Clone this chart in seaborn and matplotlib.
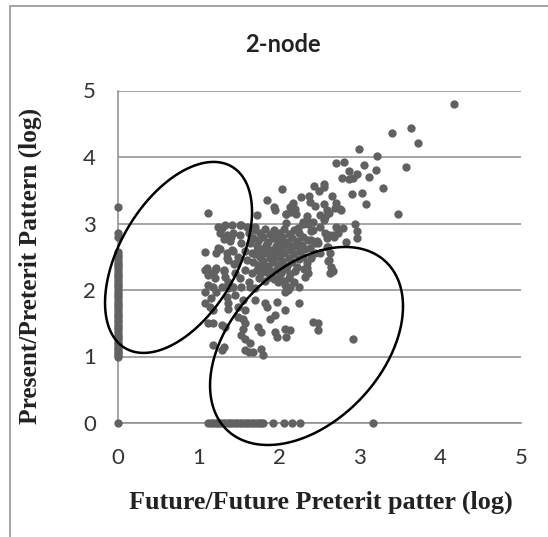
import numpy as np
import matplotlib
matplotlib.use("Agg")
import matplotlib.pyplot as plt
from matplotlib.patches import Rectangle
import seaborn as sns
import pandas as pd

# points on the x = 0 axis (y values)
zero_col_y = [0, 0.99, 1.02, 1.05, 1.08, 1.12, 1.15, 1.19, 1.22, 1.26, 1.30, 1.33, 1.37,
              1.41, 1.44, 1.48, 1.52, 1.55, 1.59, 1.63, 1.66, 1.70, 1.74, 1.78, 1.81,
              1.85, 1.89, 1.92, 1.96, 2.00, 2.04, 2.07, 2.11, 2.15, 2.19, 2.22, 2.26,
              2.30, 2.34, 2.37, 2.41, 2.45, 2.49, 2.53, 2.57, 2.80, 2.85, 3.25]

# points on the y = 0 axis (x values)
zero_row_x = [1.12, 1.15, 1.18, 1.21, 1.24, 1.27, 1.30, 1.33, 1.36, 1.39, 1.42, 1.45,
              1.48, 1.51, 1.54, 1.57, 1.60, 1.63, 1.66, 1.69, 1.72, 1.75, 1.78, 1.80,
              1.92, 2.06, 2.16, 2.26, 3.16]

# main cloud
cloud = [
    (4.17, 4.79), (3.64, 4.44), (3.72, 4.21), (3.40, 4.36), (2.99, 4.12), (3.21, 4.02),
    (3.57, 3.85), (3.20, 3.81), (3.05, 3.88), (2.70, 3.91), (2.81, 3.92), (2.86, 3.79),
    (2.97, 3.75), (3.11, 3.70), (2.78, 3.69), (2.86, 3.67), (2.91, 3.68), (3.29, 3.54),
    (3.03, 3.46), (2.90, 3.44), (3.08, 3.30), (3.47, 3.15), (2.56, 3.59), (2.55, 3.55),
    (2.43, 3.57), (2.49, 3.49), (2.04, 3.52), (2.27, 3.40), (2.37, 3.41), (2.66, 3.41),
    (1.85, 3.36), (1.93, 3.25), (2.17, 3.31), (2.13, 3.25), (2.20, 3.22), (2.38, 3.33),
    (2.44, 3.27), (2.55, 3.29), (2.59, 3.21), (2.71, 3.31), (2.75, 3.22), (2.69, 3.23),
    (2.08, 3.14), (2.21, 3.15), (2.34, 3.11), (2.51, 3.13), (2.57, 3.10), (2.56, 3.05),
    (2.62, 3.16), (1.73, 3.13), (2.77, 3.21), (2.09, 3.01), (2.29, 3.02), (2.35, 3.04),
    (1.12, 3.16), (2.70, 2.95), (2.79, 2.93), (2.94, 2.99), (2.97, 2.89), (2.96, 2.78),
    (2.83, 2.72), (2.42, 2.90), (2.39, 2.88), (2.36, 2.75), (2.47, 2.74), (2.62, 2.82),
    (2.68, 2.79), (2.60, 2.65), (2.62, 2.45), (2.64, 2.35), (2.67, 2.28), (2.31, 2.31),
    (2.34, 2.40), (2.40, 2.48), (2.23, 2.93), (2.29, 2.99), (1.95, 3.21), (2.15, 3.18),
    (2.09, 3.15),
    (1.24, 2.95), (1.29, 2.93), (1.42, 2.97), (1.53, 2.97), (1.60, 2.94), (1.70, 2.95),
    (1.08, 2.57), (1.26, 2.62), (1.31, 2.76), (1.40, 2.80), (1.39, 2.73), (1.35, 2.48),
    (1.43, 2.59), (1.47, 2.40), (1.44, 2.39), (1.11, 2.33), (1.22, 2.33), (1.31, 2.29),
    (1.18, 2.25),
    (1.33, 2.98), (1.51, 2.97), (1.27, 2.85), (1.35, 2.83), (1.43, 2.85), (1.51, 2.83),
    (1.62, 2.85), (1.24, 2.63), (1.22, 2.55), (1.35, 2.55), (1.41, 2.60), (1.37, 2.45),
    (1.49, 2.50), (1.58, 2.58), (1.60, 2.45), (1.66, 2.55), (1.53, 2.70), (1.64, 2.70),
    (1.08, 2.30), (1.12, 2.23), (1.20, 2.30), (1.20, 2.18), (1.31, 2.30), (1.33, 2.20),
    (1.37, 2.12), (1.45, 2.25), (1.51, 2.18), (1.58, 2.30), (1.62, 2.12), (1.66, 2.25),
    (1.29, 2.05), (1.12, 2.08), (1.41, 2.05), (1.53, 2.05),
    (2.36, 3.00), (2.42, 3.03), (2.51, 2.95), (2.57, 2.85), (2.59, 2.78), (2.67, 2.83),
    (2.73, 2.85), (2.40, 2.75), (2.44, 2.70), (2.48, 2.70), (2.38, 2.63), (2.44, 2.55),
    (2.51, 2.55), (2.59, 2.65), (2.63, 2.55), (2.61, 2.43), (2.65, 2.30), (2.63, 2.25),
    (2.34, 2.33), (2.36, 2.25), (2.32, 2.20), (2.07, 2.08), (2.11, 2.00), (1.99, 2.12),
    (1.86, 2.25), (1.91, 2.20),
    (1.08, 1.97), (1.18, 2.05), (1.22, 1.97), (1.37, 2.03), (1.43, 2.05), (1.64, 2.05),
    (1.70, 2.03), (2.07, 1.97), (2.13, 2.05), (2.24, 2.05), (1.08, 1.80), (1.16, 1.88),
    (1.14, 1.75), (1.18, 1.70), (1.35, 1.90), (1.37, 1.80), (1.37, 1.72), (1.45, 1.92),
    (1.49, 1.75), (1.55, 1.85), (1.58, 1.70), (1.70, 1.85), (1.82, 1.80), (1.85, 1.75),
    (1.97, 1.82), (2.07, 1.70), (2.24, 1.80), (1.12, 1.50), (1.18, 1.50), (1.29, 1.47),
    (1.33, 1.45), (1.49, 1.60), (1.55, 1.57), (1.58, 1.50), (1.55, 1.42), (1.74, 1.45),
    (1.78, 1.37), (1.89, 1.57), (1.95, 1.62), (1.95, 1.37), (1.97, 1.30), (2.07, 1.42),
    (2.13, 1.40), (2.09, 1.30), (2.42, 1.52), (2.48, 1.50), (2.48, 1.40), (1.53, 1.32),
    (1.58, 1.27), (1.64, 1.20), (1.62, 1.07), (1.58, 1.10), (1.68, 1.07), (1.78, 1.12),
    (1.80, 1.02), (1.18, 1.17), (1.31, 1.15), (1.29, 1.10), (2.92, 1.26),
    # dense core
    (1.70, 2.90), (1.76, 2.86), (1.82, 2.92), (1.88, 2.84), (1.94, 2.90), (2.00, 2.86),
    (2.06, 2.92), (2.12, 2.84), (2.18, 2.90), (2.24, 2.86), (2.30, 2.80),
    (1.68, 2.78), (1.74, 2.74), (1.80, 2.80), (1.86, 2.72), (1.92, 2.78), (1.98, 2.74),
    (2.04, 2.80), (2.10, 2.72), (2.16, 2.78), (2.22, 2.74), (2.28, 2.68),
    (1.72, 2.66), (1.78, 2.62), (1.84, 2.68), (1.90, 2.60), (1.96, 2.66), (2.02, 2.62),
    (2.08, 2.68), (2.14, 2.60), (2.20, 2.66), (2.26, 2.58), (2.32, 2.62),
    (1.70, 2.54), (1.76, 2.50), (1.82, 2.56), (1.88, 2.48), (1.94, 2.54), (2.00, 2.50),
    (2.06, 2.56), (2.12, 2.48), (2.18, 2.54), (2.24, 2.46), (2.30, 2.50),
    (1.68, 2.42), (1.74, 2.38), (1.80, 2.44), (1.86, 2.36), (1.92, 2.42), (1.98, 2.38),
    (2.04, 2.44), (2.10, 2.36), (2.16, 2.42), (2.22, 2.34),
    (1.72, 2.30), (1.78, 2.26), (1.84, 2.32), (1.90, 2.28), (1.96, 2.30), (2.02, 2.26),
    (2.08, 2.32), (2.14, 2.24), (2.20, 2.28),
    (1.75, 2.18), (1.82, 2.14), (1.88, 2.20), (1.94, 2.16), (2.00, 2.20), (2.06, 2.14),
    (2.12, 2.18), (2.18, 2.12),
    (1.73, 2.58), (1.85, 2.62), (1.97, 2.58), (2.03, 2.70), (1.79, 2.34), (2.05, 2.38),
    (1.91, 2.50), (2.15, 2.66), (1.77, 2.80), (1.99, 2.82),
]

# hand-drawn ellipses: centre x, centre y, half width, half height, tilt (correlation)
ellipses = [(0.751, 2.49, 0.912, 1.436, 0.476),
            (2.339, 1.158, 1.197, 1.489, 0.40)]

x_vals = [0.0] * len(zero_col_y) + zero_row_x + [p[0] for p in cloud]
y_vals = zero_col_y + [0.0] * len(zero_row_x) + [p[1] for p in cloud]
df = pd.DataFrame({"future": x_vals, "present": y_vals})

sns.set_style("white")
grey = "#8c8c8c"

fig = plt.figure(figsize=(5.48, 5.37), dpi=100)
ax = fig.add_axes([118 / 548, 1 - 423 / 537, (521 - 118) / 548, (423 - 90.5) / 537])

ax.yaxis.grid(True, color=grey, linewidth=1.1)
ax.set_axisbelow(True)
sns.scatterplot(data=df, x="future", y="present", color="#616161", s=36,
                linewidth=0, ax=ax, zorder=3, clip_on=False)

t = np.linspace(0, 2 * np.pi, 300)
for cx, cy, hx, hy, rho in ellipses:
    phi = np.arccos(rho)
    ax.plot(cx + hx * np.cos(t), cy + hy * np.cos(t - phi), color="black",
            linewidth=1.8, clip_on=False, zorder=4)

ax.set_xlim(0, 5)
ax.set_ylim(0, 5)
ax.set_xticks(range(6))
ax.set_yticks(range(6))
for side in ["top", "right"]:
    ax.spines[side].set_visible(False)
for side in ["left", "bottom"]:
    ax.spines[side].set_color(grey)
    ax.spines[side].set_linewidth(1.1)
ax.tick_params(length=0, labelsize=16, labelcolor="#333333")
ax.tick_params(axis="y", pad=16)
ax.tick_params(axis="x", pad=18)
for lab in ax.get_xticklabels() + ax.get_yticklabels():
    lab.set_fontfamily("Lato")

ax.set_xlabel("")
ax.set_ylabel("")
fig.text(321 / 548, 1 - 502 / 537, "Future/Future Preterit patter (log)",
         ha="center", va="center", fontsize=18.8, fontweight="bold",
         family="Liberation Serif", color="#222222")
fig.text(30 / 548, 1 - 266 / 537, "Present/Preterit Pattern (log)",
         ha="center", va="center", rotation=90, fontsize=18.3, fontweight="bold",
         family="Liberation Serif", color="#222222")
fig.text(283 / 548, 1 - 45 / 537, "2-node", ha="center", va="center",
         fontsize=17, fontweight="bold", family="Lato", color="#222222")

# chart frame (cut off at right and bottom)
fig.patches.append(Rectangle((10 / 548, -0.1), 1.2, 1.1 - 6 / 537,
                             transform=fig.transFigure, fill=False,
                             edgecolor=grey, linewidth=1.1))

fig.savefig("out.png", dpi=100)
